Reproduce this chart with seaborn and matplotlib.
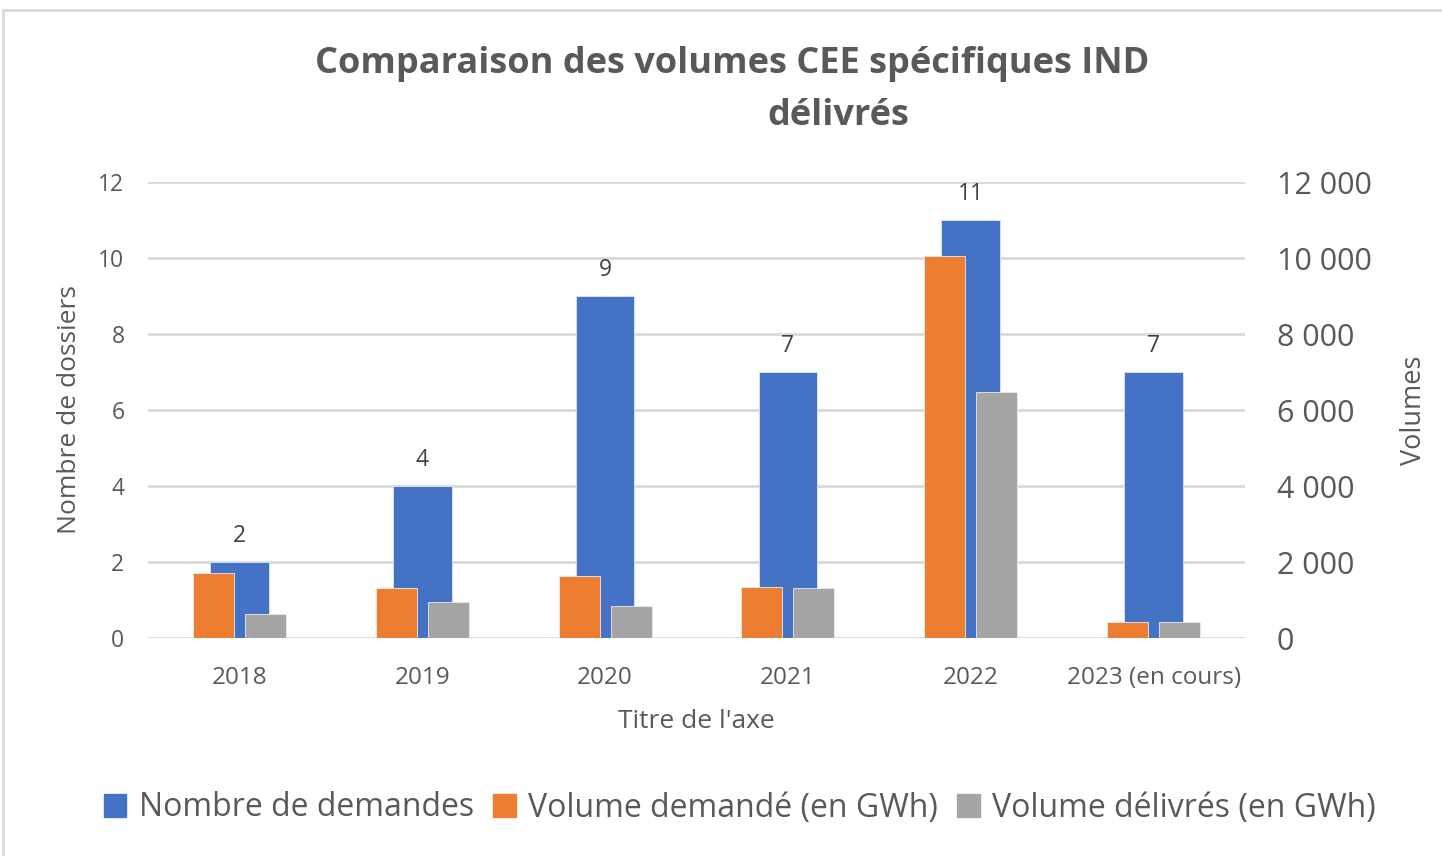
import pandas as pd
import matplotlib
matplotlib.use("Agg")
import matplotlib.pyplot as plt
import seaborn as sns
from matplotlib.patches import Patch, Rectangle
from matplotlib.ticker import FuncFormatter

annees = ["2018", "2019", "2020", "2021", "2022", "2023 (en cours)"]
nb_demandes = [2, 4, 9, 7, 11, 7]
vol_demande = [1720, 1320, 1630, 1350, 10060, 410]
vol_delivre = [630, 955, 840, 1310, 6480, 410]
series = ["Nombre de demandes", "Volume demandé (en GWh)", "Volume délivrés (en GWh)"]
couleurs = ["#4472c4", "#ed7d31", "#a5a5a5"]

sns.set_theme(style="white")
plt.rcParams['font.family'] = ['Open Sans', 'DejaVu Sans']
gris = "#595959"

W, H = 1442, 856
fig = plt.figure(figsize=(W / 100, H / 100), dpi=100)
ax = fig.add_axes([148 / W, 1 - 638 / H, (1245 - 148) / W, (638 - 182) / H])

# nombre de dossiers (axe gauche)
sns.barplot(x=annees, y=nb_demandes, color=couleurs[0], width=0.32,
            saturation=1, edgecolor="#dfe6f3", linewidth=0.6, ax=ax)
ax.bar_label(ax.containers[0], fontsize=16.5, color="#404040", padding=10)

# volumes (axe droit)
ax2 = ax.twinx()
df_vol = pd.DataFrame({"annee": annees,
                       series[1]: vol_demande,
                       series[2]: vol_delivre}).melt(id_vars="annee", var_name="serie", value_name="volume")
sns.barplot(data=df_vol, x="annee", y="volume", hue="serie", order=annees,
            hue_order=series[1:], palette=couleurs[1:], width=0.568, gap=0.21,
            saturation=1, edgecolor="#ececec", linewidth=0.6, legend=False, ax=ax2)

ax.set_ylim(0, 12)
ax2.set_ylim(0, 12000)
ax.set_xlim(-0.5, 5.5)
ax.set_yticks(range(0, 13, 2))
ax2.set_yticks(range(0, 12001, 2000))
ax2.yaxis.set_major_formatter(FuncFormatter(lambda v, p: f"{int(v):,}".replace(",", " ")))
ax.yaxis.grid(True, color="#d9d9d9", lw=2)
ax2.grid(False)
ax.set_axisbelow(True)
for a in (ax, ax2):
    for s in a.spines.values():
        s.set_visible(False)

ax.tick_params(axis="y", length=0, pad=17, labelsize=16.5, labelcolor=gris)
ax.tick_params(axis="x", length=0, pad=20, labelsize=17.5, labelcolor=gris)
ax2.tick_params(axis="y", length=0, pad=23, labelsize=22, labelcolor=gris)

ax.set_xlabel("Titre de l'axe", fontsize=19, color=gris, labelpad=14)
ax.set_ylabel("Nombre de dossiers", fontsize=19, color=gris, labelpad=12)
ax2.set_ylabel("Volumes", fontsize=19.5, color=gris, labelpad=20, rotation=90)

fig.text(732 / W, 1 - 64 / H, "Comparaison des volumes CEE spécifiques IND",
         ha="center", va="center", fontsize=26, fontweight="bold", color=gris)
fig.text(838 / W, 1 - 116 / H, "délivrés",
         ha="center", va="center", fontsize=26, fontweight="bold", color=gris)

handles = [Patch(color=c, label=s) for c, s in zip(couleurs, series)]
fig.legend(handles=handles, loc="center", bbox_to_anchor=(740 / W, 1 - 808 / H),
           ncol=3, frameon=False, fontsize=23, handlelength=0.7, handleheight=0.7,
           handletextpad=0.4, columnspacing=0.6, labelcolor=gris)

fig.patches.append(Rectangle((3 / W, -0.1), 1.2, 1 - 10 / H + 0.1, transform=fig.transFigure,
                             fill=False, ec="#d9d9d9", lw=2))

fig.savefig("out.png", dpi=100)
